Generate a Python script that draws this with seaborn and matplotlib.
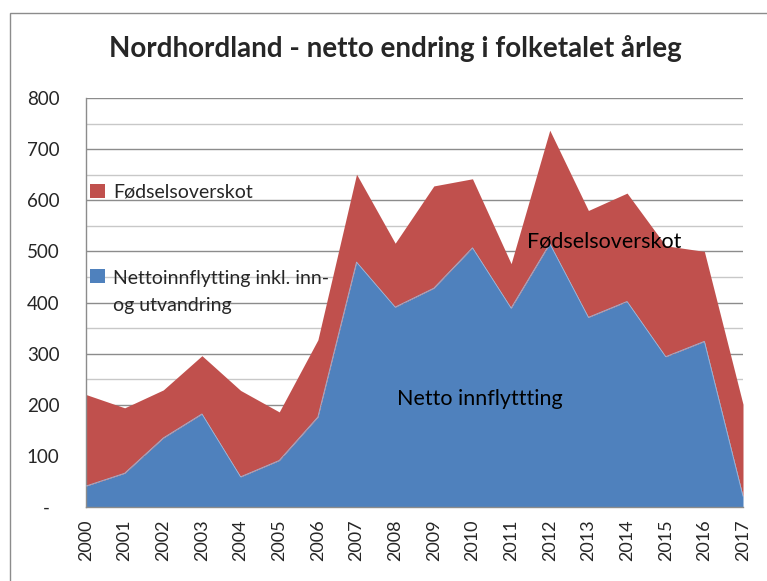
import numpy as np
import pandas as pd
import matplotlib
matplotlib.use("Agg")
import matplotlib.pyplot as plt
from matplotlib.patches import Rectangle, Patch
from matplotlib.legend_handler import HandlerPatch
from matplotlib.ticker import MultipleLocator, FuncFormatter
import seaborn as sns

# --- data ---
years = list(range(2000, 2018))
netto_innflytting = [41, 66, 135, 182, 59, 91, 176, 479, 391, 428, 507, 389, 515, 371, 402, 294, 324, 21]
fodselsoverskot = [179, 128, 94, 114, 169, 95, 151, 172, 125, 200, 135, 87, 222, 209, 212, 217, 176, 180]

df = pd.DataFrame({"year": years, "netto": netto_innflytting, "fodsel": fodselsoverskot})

BLUE = "#4F81BD"
RED = "#C0504D"


# legend square that can be moved up to sit on the first line of a two-line label
class ShiftedPatch(HandlerPatch):
    def __init__(self, dy=0.0, **kw):
        super().__init__(**kw)
        self.dy = dy

    def create_artists(self, legend, orig_handle, xdescent, ydescent, width, height, fontsize, trans):
        p = Rectangle((-xdescent, -ydescent + self.dy * fontsize), width, height,
                      facecolor=orig_handle.get_facecolor(), lw=0, transform=trans)
        return [p]


sns.set_style("white")
plt.rcParams["font.family"] = ["Lato", "DejaVu Sans"]

fig = plt.figure(figsize=(7.67, 5.81), dpi=100)
ax = fig.add_axes([86 / 767, 1 - 507 / 581, (743 - 86) / 767, (507 - 98) / 581])

# stacked areas
ax.stackplot(df["year"], df["netto"], df["fodsel"], colors=[BLUE, RED], lw=0, zorder=2)
sns.lineplot(data=df, x="year", y="netto", ax=ax, color="#9BB7DA", lw=0.6, zorder=3)

ax.set_xlim(2000, 2017)
ax.set_ylim(0, 800)
ax.yaxis.set_major_locator(MultipleLocator(100))
ax.yaxis.set_minor_locator(MultipleLocator(50))
ax.grid(axis="y", which="major", color="#8C8C8C", lw=1.0, zorder=0)
ax.grid(axis="y", which="minor", color="#C8C8C8", lw=1.0, zorder=0)
ax.set_axisbelow(True)
ax.yaxis.set_major_formatter(FuncFormatter(lambda v, p: "-  " if v == 0 else f"{int(v)}"))

ax.set_xticks(years)
ax.set_xticklabels([str(y) for y in years], rotation=90, fontsize=13)
ax.tick_params(axis="x", length=0, pad=9)
ax.tick_params(axis="y", which="both", length=0, pad=19, labelsize=13.5)

for s in ["top", "right"]:
    ax.spines[s].set_visible(False)
for s in ["left", "bottom"]:
    ax.spines[s].set_color("#8C8C8C")
    ax.spines[s].set_linewidth(1.0)
ax.set_xlabel("")
ax.set_ylabel("")

# legend inside the plot
red_h = Patch(facecolor=RED)
blue_h = Patch(facecolor=BLUE)
labels = ["Fødselsoverskot", "Nettoinnflytting inkl. inn-\nog utvandring"]
leg = ax.legend([red_h, blue_h], labels, loc="upper left", bbox_to_anchor=(-0.005, 0.81), frameon=False,
                fontsize=14, handlelength=0.75, handleheight=0.75, handletextpad=0.4,
                labelspacing=3.6, borderaxespad=0,
                handler_map={red_h: ShiftedPatch(0.0), blue_h: ShiftedPatch(0.85)})
for t in leg.get_texts():
    t.set_linespacing(1.7)

# text labels on the areas
ax.text(2013.4, 520, "Fødselsoverskot", fontsize=15.5, ha="center", va="center", color="black", zorder=5)
ax.text(2010.2, 211, "Netto innflyttting", fontsize=15.5, ha="center", va="center", color="black", zorder=5)

fig.suptitle("Nordhordland - netto endring i folketalet årleg", x=0.515, y=1 - 48 / 581,
             va="center", fontsize=20, fontweight="bold")

# chart-area border
fig.patches.append(Rectangle((10 / 767, -0.05), 1.1, 1 - 13 / 581 + 0.05, transform=fig.transFigure,
                             fill=False, ec="#8C8C8C", lw=1.0))

fig.savefig("out.png", dpi=100)
